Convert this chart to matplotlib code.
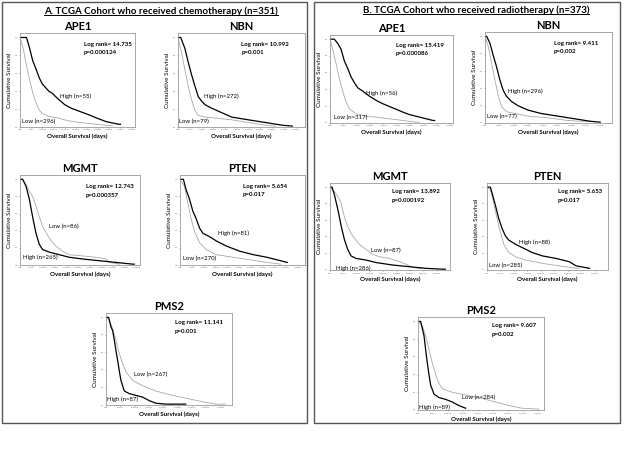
import numpy as np
import matplotlib.pyplot as plt
from matplotlib.lines import Line2D

plt.rcParams['font.family'] = ['Lato', 'DejaVu Sans']

W, H = 625, 459

# ---- curve data (days, cumulative survival) ----
# A. chemotherapy cohort
chemo_ape1_high_t = [0, 290, 430, 570, 715, 860, 1000, 1145, 1290, 1430, 1720, 2000, 2290, 2720, 3150, 3430, 3860, 4430, 4500]
chemo_ape1_high_s = [1.0, 1.0, 0.88, 0.74, 0.65, 0.55, 0.48, 0.44, 0.40, 0.38, 0.31, 0.25, 0.21, 0.17, 0.13, 0.10, 0.06, 0.03, 0.03]
chemo_ape1_low_t = [0, 143, 286, 429, 572, 715, 858, 1000, 1290, 1720, 2145, 2720, 3430, 4000, 4150]
chemo_ape1_low_s = [1.0, 0.88, 0.69, 0.53, 0.38, 0.27, 0.19, 0.15, 0.12, 0.10, 0.07, 0.05, 0.03, 0.015, 0.015]

chemo_nbn_high_t = [0, 115, 290, 430, 570, 715, 860, 1000, 1145, 1430, 1860, 2290, 3000, 3720, 4430, 4860]
chemo_nbn_high_s = [1.0, 1.0, 0.88, 0.73, 0.59, 0.46, 0.34, 0.29, 0.25, 0.21, 0.16, 0.11, 0.08, 0.05, 0.02, 0.01]
chemo_nbn_low_t = [0, 143, 286, 430, 570, 715, 860, 1145, 1570, 2290, 3000, 3720, 4150]
chemo_nbn_low_s = [1.0, 0.84, 0.65, 0.46, 0.31, 0.19, 0.13, 0.11, 0.10, 0.08, 0.05, 0.02, 0.01]

chemo_mgmt_high_t = [0, 115, 257, 400, 543, 686, 830, 972, 1258, 1687, 2116, 2688, 3403, 4118, 4833, 4905]
chemo_mgmt_high_s = [1.0, 1.0, 0.92, 0.77, 0.56, 0.37, 0.24, 0.18, 0.15, 0.12, 0.09, 0.07, 0.05, 0.03, 0.01, 0.01]
chemo_mgmt_low_t = [0, 115, 257, 400, 543, 686, 830, 972, 1258, 1544, 1830, 2116, 2545, 3260, 3690, 3832, 4260]
chemo_mgmt_low_s = [1.0, 1.0, 0.94, 0.86, 0.80, 0.69, 0.56, 0.45, 0.31, 0.22, 0.16, 0.12, 0.11, 0.09, 0.07, 0.03, 0.01]

chemo_pten_high_t = [0, 143, 257, 400, 543, 686, 830, 972, 1258, 1544, 1973, 2545, 3117, 3690, 4261, 4547]
chemo_pten_high_s = [1.0, 1.0, 0.88, 0.77, 0.63, 0.54, 0.43, 0.37, 0.33, 0.28, 0.22, 0.16, 0.12, 0.09, 0.05, 0.03]
chemo_pten_low_t = [0, 186, 329, 472, 615, 829, 1115, 1544, 2259, 2974, 3690, 4261]
chemo_pten_low_s = [1.0, 0.92, 0.73, 0.54, 0.39, 0.26, 0.18, 0.12, 0.09, 0.06, 0.03, 0.01]

chemo_pms2_high_t = [0, 93, 174, 232, 290, 348, 406, 464, 522, 638, 812, 1044, 1276, 1508, 1740, 2088, 2784]
chemo_pms2_high_s = [1.0, 1.0, 0.89, 0.85, 0.74, 0.62, 0.51, 0.39, 0.28, 0.16, 0.13, 0.11, 0.09, 0.05, 0.02, 0.01, 0.01]
chemo_pms2_low_t = [0, 116, 232, 348, 464, 580, 696, 928, 1276, 1740, 2320, 2900, 3480, 3828, 4176]
chemo_pms2_low_s = [1.0, 0.97, 0.87, 0.74, 0.59, 0.47, 0.38, 0.28, 0.22, 0.16, 0.11, 0.07, 0.03, 0.01, 0.01]

# B. radiotherapy cohort
radio_ape1_high_t = [0, 163, 288, 413, 538, 663, 788, 913, 1038, 1225, 1475, 1725, 1975, 2350, 2725, 2975, 3475, 3850, 3913]
radio_ape1_high_s = [1.0, 1.0, 0.95, 0.88, 0.74, 0.65, 0.55, 0.48, 0.42, 0.38, 0.32, 0.27, 0.23, 0.18, 0.13, 0.10, 0.06, 0.03, 0.03]
radio_ape1_low_t = [0, 100, 225, 350, 475, 600, 725, 975, 1350, 1725, 2225, 2725, 3225, 3350]
radio_ape1_low_s = [1.0, 0.88, 0.71, 0.53, 0.38, 0.25, 0.17, 0.11, 0.08, 0.07, 0.05, 0.03, 0.01, 0.01]

radio_nbn_high_t = [0, 57, 171, 285, 399, 513, 627, 741, 912, 1140, 1482, 1938, 2508, 3078, 3648, 3990]
radio_nbn_high_s = [1.0, 1.0, 0.92, 0.78, 0.65, 0.50, 0.38, 0.31, 0.25, 0.20, 0.15, 0.11, 0.08, 0.05, 0.02, 0.01]
radio_nbn_low_t = [0, 114, 228, 342, 456, 570, 741, 1026, 1482, 2166, 2850, 3306, 3648]
radio_nbn_low_s = [1.0, 0.88, 0.69, 0.50, 0.32, 0.19, 0.13, 0.11, 0.08, 0.06, 0.03, 0.02, 0.02]

radio_mgmt_high_t = [0, 75, 163, 288, 413, 538, 663, 788, 975, 1350, 1725, 2350, 2975, 3600, 4225, 4325]
radio_mgmt_high_s = [1.0, 1.0, 0.91, 0.74, 0.54, 0.37, 0.25, 0.17, 0.14, 0.12, 0.09, 0.06, 0.04, 0.02, 0.01, 0.01]
radio_mgmt_low_t = [0, 163, 288, 413, 538, 663, 850, 1100, 1350, 1600, 1850, 2225, 2600, 2850, 3100, 3350, 3475]
radio_mgmt_low_s = [1.0, 0.95, 0.89, 0.81, 0.64, 0.52, 0.41, 0.31, 0.25, 0.19, 0.16, 0.14, 0.10, 0.07, 0.03, 0.02, 0.02]

radio_pten_high_t = [0, 125, 188, 313, 438, 563, 688, 813, 1063, 1313, 1688, 2063, 2563, 3063, 3313, 3813]
radio_pten_high_s = [1.0, 1.0, 0.93, 0.78, 0.62, 0.50, 0.41, 0.36, 0.31, 0.27, 0.21, 0.17, 0.14, 0.10, 0.05, 0.02]
radio_pten_low_t = [0, 125, 250, 375, 500, 625, 813, 1063, 1438, 2063, 2688, 3313, 3438]
radio_pten_low_s = [1.0, 0.97, 0.81, 0.62, 0.45, 0.31, 0.21, 0.16, 0.12, 0.08, 0.05, 0.02, 0.02]

radio_pms2_high_t = [0, 89, 144, 200, 255, 311, 366, 422, 533, 699, 921, 1143, 1365, 1587]
radio_pms2_high_s = [1.0, 1.0, 0.92, 0.84, 0.68, 0.53, 0.40, 0.28, 0.18, 0.14, 0.12, 0.09, 0.05, 0.02]
radio_pms2_low_t = [0, 144, 255, 366, 477, 588, 699, 810, 1143, 1587, 2142, 2586, 3030, 3474, 4029]
radio_pms2_low_s = [1.0, 0.95, 0.84, 0.68, 0.53, 0.40, 0.30, 0.24, 0.20, 0.17, 0.13, 0.09, 0.05, 0.02, 0.01]

# ---- texts ----
genes = ["APE1", "NBN", "MGMT", "PTEN", "PMS2"]
chemo_logrank = ["Log rank= 14.735", "Log rank= 10.992", "Log rank= 12.743", "Log rank= 5.654", "Log rank= 11.141"]
chemo_p = ["p=0.000124", "p=0.001", "p=0.000357", "p=0.017", "p=0.001"]
chemo_high_n = ["High (n=55)", "High (n=272)", "High (n=265)", "High (n=81)", "High (n=87)"]
chemo_low_n = ["Low (n=296)", "Low (n=79)", "Low (n=86)", "Low (n=270)", "Low (n=267)"]
radio_logrank = ["Log rank= 15.419", "Log rank= 9.411", "Log rank= 13.892", "Log rank= 5.653", "Log rank= 9.607"]
radio_p = ["p=0.000086", "p=0.002", "p=0.000192", "p=0.017", "p=0.002"]
radio_high_n = ["High (n=56)", "High (n=296)", "High (n=286)", "High (n=88)", "High (n=89)"]
radio_low_n = ["Low (n=317)", "Low (n=77)", "Low (n=87)", "Low (n=285)", "Low (n=284)"]


def fx(px):
    return px / W


def fy(py):
    return 1 - py / H


fig = plt.figure(figsize=(W / 100, H / 100), dpi=100)
fig.patch.set_facecolor("white")


def km_axes(rect, xmax, xticks):
    # rect in pixels: left, top, right, bottom
    l, t, r, b = rect
    ax = fig.add_axes([fx(l), fy(b), fx(r) - fx(l), fy(t) - fy(b)])
    ax.set_xlim(0, xmax)
    ax.set_ylim(0, 1.05)
    ax.set_xticks(xticks)
    ax.set_xticklabels(["%d.00" % v for v in xticks])
    ax.set_yticks([0, 0.2, 0.4, 0.6, 0.8, 1.0])
    ax.set_yticklabels(["0.0", "0.2", "0.4", "0.6", "0.8", "1.0"])
    ax.tick_params(labelsize=1.6, length=1, width=0.4, pad=0.8, colors="#666666")
    for s in ax.spines.values():
        s.set_color("#9a9a9a")
        s.set_linewidth(0.6)
    ax.set_ylabel("Cumulative Survival", fontsize=4.6, labelpad=2)
    ax.set_xlabel("Overall Survival (days)", fontsize=4.4, fontweight="bold", labelpad=2)
    return ax


def draw_panel(ax, title, ht, hs, lt, ls, texts, pos):
    ax.plot(lt, ls, color="#a8a8a8", lw=0.6)
    ax.plot(ht, hs, color="black", lw=0.9)
    ax.set_title(title, fontsize=8, fontweight="bold", pad=2)
    lr, pv, hn, ln = texts
    (lrx, lry, py_), (hx, hy), (lx, ly) = pos
    ax.text(lrx, lry, lr, fontsize=4.4, fontweight="bold", va="center")
    ax.text(lrx, py_, pv, fontsize=4.4, fontweight="bold", va="center")
    ax.text(hx, hy, hn, fontsize=4.3, va="center")
    ax.text(lx, ly, ln, fontsize=4.3, va="center")


t5000 = list(range(0, 5001, 500))
t4500 = list(range(0, 4501, 500))
t4000 = list(range(0, 4001, 500))

# panel frames
for l, r in [(2, 307), (314, 620)]:
    fig.add_artist(plt.Rectangle((fx(l), fy(423)), fx(r) - fx(l), fy(2) - fy(423),
                                 transform=fig.transFigure, fill=False,
                                 edgecolor="#555555", lw=1.0))

# A. chemotherapy
a = km_axes((20, 33, 135, 127), 5150, t5000)
draw_panel(a, genes[0], chemo_ape1_high_t, chemo_ape1_high_s, chemo_ape1_low_t, chemo_ape1_low_s,
           (chemo_logrank[0], chemo_p[0], chemo_high_n[0], chemo_low_n[0]),
           ((2860, 0.92, 0.83), (1790, 0.34), (70, 0.06)))
a = km_axes((178, 33, 305, 127), 5400, t5000)
draw_panel(a, genes[1], chemo_nbn_high_t, chemo_nbn_high_s, chemo_nbn_low_t, chemo_nbn_low_s,
           (chemo_logrank[1], chemo_p[1], chemo_high_n[1], chemo_low_n[1]),
           ((2690, 0.92, 0.83), (1115, 0.34), (30, 0.06)))
a = km_axes((20, 175, 140, 265), 5150, t5000)
draw_panel(a, genes[2], chemo_mgmt_high_t, chemo_mgmt_high_s, chemo_mgmt_low_t, chemo_mgmt_low_s,
           (chemo_logrank[2], chemo_p[2], chemo_high_n[2], chemo_low_n[2]),
           ((2830, 0.92, 0.81), (115, 0.09), (1260, 0.45)))
a = km_axes((180, 175, 305, 265), 5300, t5000)
draw_panel(a, genes[3], chemo_pten_high_t, chemo_pten_high_s, chemo_pten_low_t, chemo_pten_low_s,
           (chemo_logrank[3], chemo_p[3], chemo_high_n[3], chemo_low_n[3]),
           ((2660, 0.92, 0.82), (1615, 0.37), (115, 0.08)))
a = km_axes((106, 313, 232, 405), 4400, t4000)
draw_panel(a, genes[4], chemo_pms2_high_t, chemo_pms2_high_s, chemo_pms2_low_t, chemo_pms2_low_s,
           (chemo_logrank[4], chemo_p[4], chemo_high_n[4], chemo_low_n[4]),
           ((2400, 0.94, 0.84), (25, 0.07), (990, 0.35)))

# B. radiotherapy
a = km_axes((330, 35, 453, 123), 4600, t4500)
draw_panel(a, genes[0], radio_ape1_high_t, radio_ape1_high_s, radio_ape1_low_t, radio_ape1_low_s,
           (radio_logrank[0], radio_p[0], radio_high_n[0], radio_low_n[0]),
           ((2450, 0.92, 0.83), (1350, 0.35), (160, 0.07)))
a = km_axes((485, 32, 612, 123), 4400, t4000)
draw_panel(a, genes[1], radio_nbn_high_t, radio_nbn_high_s, radio_nbn_low_t, radio_nbn_low_s,
           (radio_logrank[1], radio_p[1], radio_high_n[1], radio_low_n[1]),
           ((2394, 0.92, 0.83), (800, 0.37), (80, 0.07)))
a = km_axes((330, 183, 450, 270), 4500, t4000)
draw_panel(a, genes[2], radio_mgmt_high_t, radio_mgmt_high_s, radio_mgmt_low_t, radio_mgmt_low_s,
           (radio_logrank[2], radio_p[2], radio_high_n[2], radio_low_n[2]),
           ((2325, 0.95, 0.84), (225, 0.02), (1540, 0.23)))
a = km_axes((487, 183, 608, 270), 4500, t4000)
draw_panel(a, genes[3], radio_pten_high_t, radio_pten_high_s, radio_pten_low_t, radio_pten_low_s,
           (radio_logrank[3], radio_p[3], radio_high_n[3], radio_low_n[3]),
           ((2625, 0.95, 0.84), (1190, 0.33), (60, 0.06)))
a = km_axes((418, 317, 544, 410), 4200, t4000)
draw_panel(a, genes[4], radio_pms2_high_t, radio_pms2_high_s, radio_pms2_low_t, radio_pms2_low_s,
           (radio_logrank[4], radio_p[4], radio_high_n[4], radio_low_n[4]),
           ((2450, 0.95, 0.85), (30, 0.03), (1480, 0.14)))

# underlined panel titles
titles = []
titles.append(fig.text(fx(161), fy(11), "A. TCGA Cohort who received chemotherapy (n=351)",
                       ha="center", va="center", fontsize=7, fontweight="bold"))
titles.append(fig.text(fx(476), fy(10), "B. TCGA Cohort who received radiotherapy (n=373)",
                       ha="center", va="center", fontsize=7, fontweight="bold"))
fig.canvas.draw()
for t in titles:
    bb = t.get_window_extent().transformed(fig.transFigure.inverted())
    fig.add_artist(Line2D([bb.x0, bb.x1], [bb.y0 + 0.002, bb.y0 + 0.002],
                          transform=fig.transFigure, color="black", lw=0.7))

fig.savefig("out.png", dpi=100)
